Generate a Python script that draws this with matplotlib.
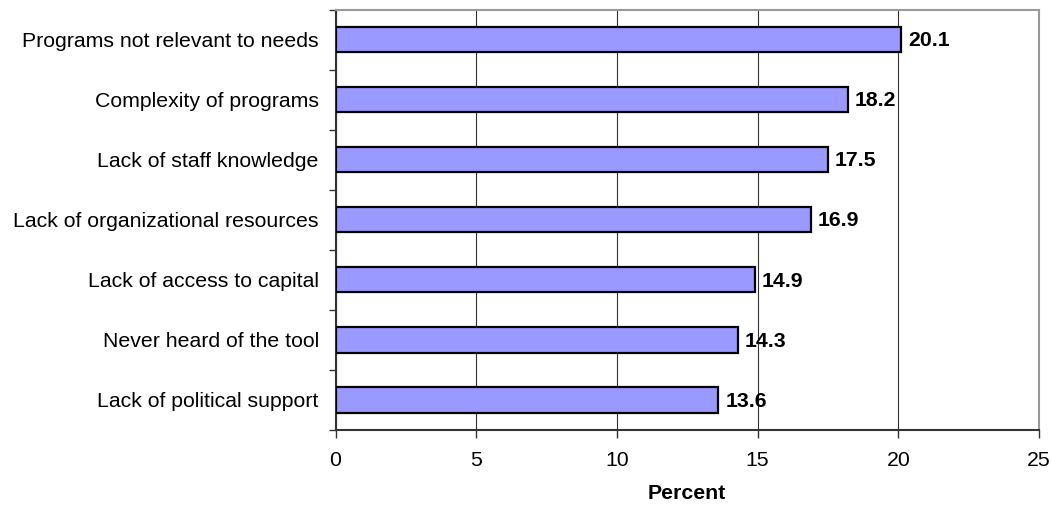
import numpy as np
import matplotlib.pyplot as plt

plt.rcParams['font.family'] = ['Liberation Sans', 'DejaVu Sans']

categories = ['Programs not relevant to needs', 'Complexity of programs',
              'Lack of staff knowledge', 'Lack of organizational resources',
              'Lack of access to capital', 'Never heard of the tool',
              'Lack of political support']
values = [20.1, 18.2, 17.5, 16.9, 14.9, 14.3, 13.6]

fig = plt.figure(figsize=(10.52, 5.08), dpi=100)
ax = fig.add_axes([335.5 / 1052, 1 - 430 / 508, (1039 - 335.5) / 1052, (430 - 9.5) / 508])

y = np.arange(len(categories))
ax.barh(y, values, height=0.42, color='#9999ff', edgecolor='black', linewidth=1.6, zorder=3)

for yi, v in zip(y, values):
    ax.text(v + 0.25, yi + 0.02, f'{v:.1f}', va='center', ha='left', fontsize=15.3,
            fontweight='bold', zorder=4)

ax.set_xlim(0, 25)
ax.set_ylim(len(categories) - 0.5, -0.5)
ax.set_xticks([0, 5, 10, 15, 20, 25])
ax.tick_params(axis='x', labelsize=15.3, length=6, width=1, pad=9, color='#333333')
ax.set_yticks(y)
ax.set_yticklabels(categories, fontsize=15.3)
ax.tick_params(axis='y', length=0, pad=12)
ax.set_yticks(np.arange(-0.5, len(categories) + 0.5), minor=True)
ax.tick_params(axis='y', which='minor', length=5, width=1, color='#333333')

ax.grid(axis='x', color='#333333', linewidth=0.8, zorder=0)
ax.set_xlabel('Percent', fontsize=15.3, fontweight='bold', labelpad=10)

ax.spines['left'].set_color('#333333')
ax.spines['left'].set_linewidth(1.5)
ax.spines['bottom'].set_color('#333333')
ax.spines['bottom'].set_linewidth(1.5)
ax.spines['top'].set_color('#999999')
ax.spines['top'].set_linewidth(1.5)
ax.spines['right'].set_color('#999999')
ax.spines['right'].set_linewidth(1.5)

fig.savefig('out.png', dpi=100)
